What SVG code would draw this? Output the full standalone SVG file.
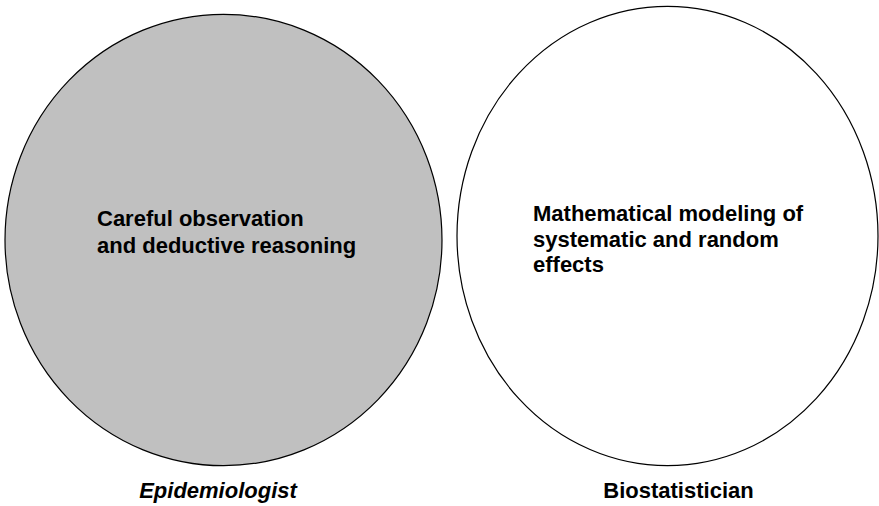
<svg xmlns="http://www.w3.org/2000/svg" width="879" height="506" viewBox="0 0 879 506">
  <style>
    .disc { stroke: #000; stroke-width: 1.2; }
    .body { font-family: "Liberation Sans", Arial, sans-serif; font-size: 22px; font-weight: bold; fill: #000; }
    .label { font-family: "Liberation Sans", Arial, sans-serif; font-size: 22px; font-weight: bold; fill: #000; text-anchor: middle; }
  </style>
  <rect width="879" height="506" fill="#fff"/>
  <g id="epidemiologist">
    <ellipse class="disc" cx="223.5" cy="240" rx="218.5" ry="225.7" fill="#c0c0c0"/>
    <text class="body" x="97" y="226">Careful observation</text>
    <text class="body" x="97" y="253">and deductive reasoning</text>
    <text class="label" x="218" y="498" font-style="italic">Epidemiologist</text>
  </g>
  <g id="biostatistician">
    <ellipse class="disc" cx="667.5" cy="236" rx="210.5" ry="229.7" fill="#fff"/>
    <text class="body" x="533" y="221">Mathematical modeling of</text>
    <text class="body" x="533" y="246.5">systematic and random</text>
    <text class="body" x="533" y="272">effects</text>
    <text class="label" x="678.5" y="498">Biostatistician</text>
  </g>
  <g id="connectors"/>
</svg>
